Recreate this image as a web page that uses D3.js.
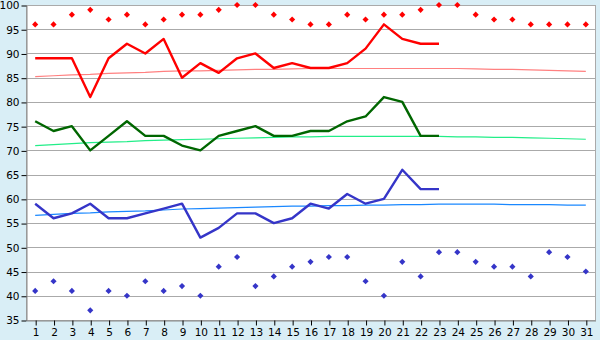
<!DOCTYPE html>
<html>
<head>
<meta charset="utf-8">
<script src="https://cdn.jsdelivr.net/npm/d3@7"></script>
<style>
  body { margin: 0; background: #d9eef6; }
  svg { display: block; }
  .axis text { font-family: "DejaVu Sans", Verdana, sans-serif; font-size: 10.5px; fill: #000; }
</style>
</head>
<body>
<svg id="chart"></svg>
<script>
var days = d3.range(1, 32);
var yTicks = [35, 40, 45, 50, 55, 60, 65, 70, 75, 80, 85, 90, 95, 100];

// daily highs, averages, lows (first 23 days of month)
var highLine = [89,89,89,81,89,92,90,93,85,88,86,89,90,87,88,87,87,88,91,96,93,92,92];
var meanLine = [76,74,75,70,73,76,73,73,71,70,73,74,75,73,73,74,74,76,77,81,80,73,73];
var lowLine  = [59,56,57,59,56,56,57,58,59,52,54,57,57,55,56,59,58,61,59,60,66,62,62];

// record high / record low for every day
var recordHigh = [96,96,98,99,97,98,96,97,98,98,99,100,100,98,97,96,96,98,97,98,98,99,100,100,98,97,97,96,96,96,96];
var recordLow  = [41,43,41,37,41,40,43,41,42,40,46,48,42,44,46,47,48,48,43,40,47,44,49,49,47,46,46,44,49,48,45];

// normals
var normalHigh = [85.2,85.4,85.6,85.7,85.9,86.0,86.1,86.3,86.4,86.4,86.5,86.6,86.7,86.7,86.8,86.9,86.9,86.9,86.9,86.9,86.9,86.9,86.9,86.9,86.8,86.7,86.7,86.6,86.5,86.4,86.3];
var normalMean = [71.0,71.2,71.4,71.6,71.7,71.8,72.0,72.1,72.2,72.3,72.4,72.5,72.6,72.7,72.8,72.8,72.9,72.9,72.9,72.9,72.9,72.9,72.9,72.8,72.8,72.7,72.7,72.6,72.5,72.4,72.3];
var normalLow  = [56.6,56.8,57.0,57.1,57.3,57.4,57.5,57.7,57.9,58.0,58.1,58.2,58.3,58.4,58.5,58.5,58.6,58.6,58.7,58.7,58.8,58.8,58.9,58.9,58.9,58.9,58.8,58.8,58.8,58.7,58.7];

var W = 600, H = 340;
var margin = {left: 26, right: 595, top: 5, bottom: 320};

var svg = d3.select("#chart").attr("width", W).attr("height", H);

var x = d3.scalePoint().domain(days).range([margin.left, margin.right]).padding(0.5);
var y = d3.scaleLinear().domain([35, 100]).range([margin.bottom, margin.top]);

// plot area
svg.append("rect")
  .attr("x", margin.left + 0.5).attr("y", margin.top + 0.5)
  .attr("width", margin.right - margin.left).attr("height", margin.bottom - margin.top)
  .attr("fill", "#fff")
  .attr("stroke", "#aaa");

// gridlines
svg.append("g")
  .selectAll("line")
  .data(yTicks)
  .join("line")
  .attr("x1", margin.left).attr("x2", margin.right)
  .attr("y1", d => Math.round(y(d)) + 0.5).attr("y2", d => Math.round(y(d)) + 0.5)
  .attr("stroke", "#aaa");

// axes
var yAxis = svg.append("g")
  .attr("class", "axis")
  .attr("transform", "translate(" + (margin.left + 0.5) + ",0.5)")
  .call(d3.axisLeft(y).tickValues(yTicks).tickSize(5).tickPadding(2).tickSizeOuter(0));
yAxis.select(".domain").attr("stroke", "#888");

var xAxis = svg.append("g")
  .attr("class", "axis")
  .attr("transform", "translate(0.5," + (margin.bottom + 0.5) + ")")
  .call(d3.axisBottom(x).tickSize(5).tickPadding(3).tickSizeOuter(0));
xAxis.select(".domain").attr("stroke", "#888");
svg.selectAll(".axis line").attr("stroke", "#000");

// normals
var line = d3.line()
  .x((d, i) => x(days[i]))
  .y(d => y(d));

[[normalHigh, "#ff8080"], [normalMean, "#22ee88"], [normalLow, "#1a88ff"]].forEach(function(s) {
  svg.append("path")
    .datum(s[0])
    .attr("fill", "none")
    .attr("stroke", s[1])
    .attr("stroke-width", 1.2)
    .attr("d", line);
});

// daily lines
[[highLine, "#ff0000"], [meanLine, "#006600"], [lowLine, "#3535c8"]].forEach(function(s) {
  svg.append("path")
    .datum(s[0])
    .attr("fill", "none")
    .attr("stroke", s[1])
    .attr("stroke-width", 2.4)
    .attr("stroke-linejoin", "round")
    .attr("d", line);
});

// record markers
var diamond = d3.symbol().type(d3.symbolDiamond2 || d3.symbolDiamond).size(24);
[[recordHigh, "#ff0000"], [recordLow, "#3535c8"]].forEach(function(s) {
  svg.append("g")
    .selectAll("path")
    .data(s[0])
    .join("path")
    .attr("transform", (d, i) => "translate(" + x(days[i]) + "," + y(d) + ")")
    .attr("d", diamond)
    .attr("fill", s[1]);
});
</script>
</body>
</html>
